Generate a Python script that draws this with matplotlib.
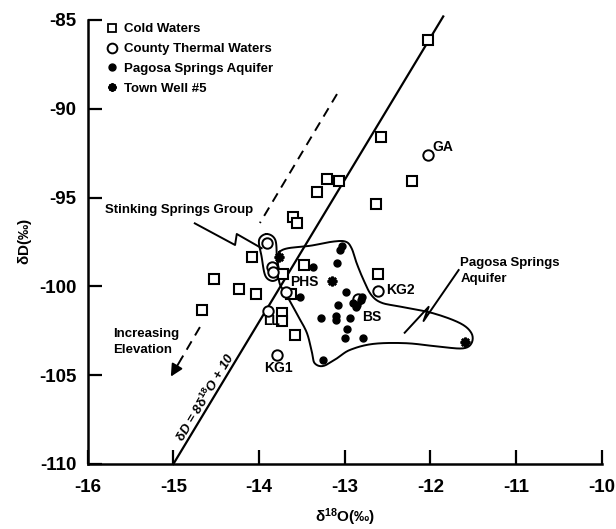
import numpy as np
import matplotlib
matplotlib.use("Agg")
import matplotlib.pyplot as plt
from matplotlib.lines import Line2D

plt.rcParams['font.family'] = ['Liberation Sans', 'DejaVu Sans']
plt.rcParams['font.weight'] = 'bold'
plt.rcParams['axes.labelweight'] = 'bold'
plt.rcParams['axes.unicode_minus'] = False
plt.rcParams['mathtext.fontset'] = 'custom'
plt.rcParams['mathtext.rm'] = 'Liberation Sans:bold'
plt.rcParams['mathtext.bf'] = 'Liberation Sans:bold'
plt.rcParams['mathtext.it'] = 'Liberation Sans:bold:italic'
plt.rcParams['mathtext.default'] = 'bf'

# datos
cold_x = [-12.03, -12.58, -12.22, -13.07, -13.21, -13.32, -12.63, -13.60, -13.56,
          -14.08, -13.72, -13.48, -14.53, -14.23, -14.03, -13.63, -12.61, -14.67,
          -13.73, -13.73, -13.58]
cold_y = [-86.1, -91.6, -94.07, -94.07, -93.95, -94.67, -95.36, -96.08, -96.45,
          -98.36, -99.28, -98.8, -99.6, -100.16, -100.44, -100.43, -99.28, -101.33,
          -101.48, -101.95, -102.74]

thermal_x = [-12.03, -13.91, -13.85, -13.84, -13.69, -12.61, -13.89, -13.79, -12.84]
thermal_y = [-92.6, -97.55, -98.9, -99.17, -100.3, -100.24, -101.39, -103.86, -100.73]

pagosa_x = [-13.03, -13.05, -13.09, -13.37, -13.52, -12.98, -13.08, -13.28, -13.10,
            -13.10, -12.94, -12.97, -13.00, -12.79, -13.25, -12.90, -12.86, -12.81,
            -12.80, -12.87]
pagosa_y = [-97.72, -97.95, -98.66, -98.89, -100.61, -100.33, -101.07, -101.80, -101.67,
            -101.89, -101.76, -102.42, -102.89, -102.89, -104.14, -100.95, -101.05, -100.75,
            -100.6, -101.15]

well_x = [-13.77, -13.15, -11.60]
well_y = [-98.36, -99.72, -103.15]

# etiquetas de muestras
sample_names = ['GA', 'PHS', 'KG2', 'BS', 'LL', 'KG1']
sample_x = [-11.98, -13.47, -12.52, -12.68, -13.86, -13.77]
sample_y = [-92.15, -99.75, -100.2, -101.72, -101.95, -104.6]
sample_ha = ['left', 'center', 'left', 'center', 'center', 'center']

# contorno del acuifero Pagosa Springs
env_x = [-13.76, -13.66, -13.40, -13.14, -12.99, -12.92, -12.86, -12.78, -12.69, -12.57,
         -12.35, -11.97, -11.65, -11.52, -11.52, -11.62, -11.89, -12.28, -12.67, -12.94,
         -13.09, -13.25, -13.35, -13.38, -13.44, -13.54, -13.68, -13.76, -13.78, -13.78]
env_y = [-98.05, -97.85, -97.71, -97.48, -97.48, -97.85, -98.70, -99.64, -100.48, -100.92,
         -101.14, -101.51, -102.08, -102.64, -103.20, -103.49, -103.40, -103.20, -103.24, -103.58,
         -104.05, -104.48, -104.33, -103.77, -102.64, -101.71, -100.48, -99.83, -98.89, -98.33]

# contorno del grupo Stinking Springs
ss_x = [-13.91, -13.81, -13.79, -13.76, -13.79, -13.86, -13.93, -13.97, -14.00]
ss_y = [-97.05, -97.39, -98.51, -99.26, -99.60, -99.68, -99.36, -98.33, -97.39]


def suavizar(xs, ys, n=12):
    # Catmull-Rom cerrado
    p = np.column_stack([xs, ys])
    m = len(p)
    out = []
    for i in range(m):
        p0, p1, p2, p3 = p[i - 1], p[i], p[(i + 1) % m], p[(i + 2) % m]
        for t in np.linspace(0, 1, n, endpoint=False):
            out.append(0.5 * (2 * p1 + (-p0 + p2) * t
                              + (2 * p0 - 5 * p1 + 4 * p2 - p3) * t ** 2
                              + (-p0 + 3 * p1 - 3 * p2 + p3) * t ** 3))
    out.append(out[0])
    out = np.array(out)
    return out[:, 0], out[:, 1]


fig = plt.figure(figsize=(6.16, 5.29), dpi=100)
ax = fig.add_axes([0.1424, 0.1229, 0.8344, 0.8393])

# linea meteorica
mwl_x = np.array([-15.0, -11.85])
ax.plot(mwl_x, 8 * mwl_x + 10, color='black', lw=1.6, clip_on=False)
ax.text(-14.63, -106.23, r'$\delta$D = 8$\delta^{18}$O + 10', rotation=58.9,
        ha='center', va='center', fontsize=9.5, style='italic')

# flecha de elevacion
ax.plot([-13.09, -13.99], [-89.17, -96.43], color='black', lw=1.4, ls=(0, (5, 3.5)))
ax.plot([-14.69, -14.91], [-102.29, -104.1], color='black', lw=1.4, ls=(0, (5, 3.5)))
ax.annotate('', xy=(-15.03, -105.08), xytext=(-14.91, -104.1),
            arrowprops=dict(arrowstyle='-|>', color='black', lw=1.4,
                            mutation_scale=18, shrinkA=0, shrinkB=0))
ax.text(-15.70, -103.13, 'Increasing\nElevation', ha='left', va='center',
        fontsize=9.5, linespacing=1.45)

# contornos
ex, ey = suavizar(env_x, env_y)
ax.plot(ex, ey, color='black', lw=1.4)
sx, sy = suavizar(ss_x, ss_y)
ax.plot(sx, sy, color='black', lw=1.4)

# flechas en zigzag
ax.plot([-14.75, -14.28, -14.26, -13.97], [-96.45, -97.67, -97.05, -97.85],
        color='black', lw=1.4)
ax.text(-15.80, -95.70, 'Stinking Springs Group', ha='left', va='center', fontsize=9.5)
ax.plot([-11.67, -12.08, -12.02, -12.30], [-99.08, -101.95, -101.15, -102.61],
        color='black', lw=1.4)
ax.text(-11.65, -99.13, 'Pagosa Springs\nAquifer', ha='left', va='center',
        fontsize=9.5, linespacing=1.45)

# puntos
ax.plot(cold_x, cold_y, ls='none', marker='s', ms=7, mfc='white', mec='black', mew=1.5)
ax.plot(thermal_x, thermal_y, ls='none', marker='o', ms=7.5, mfc='white', mec='black', mew=1.4)
ax.plot(pagosa_x, pagosa_y, ls='none', marker='o', ms=5, mfc='black', mec='black')
ax.plot(well_x, well_y, ls='none', marker=(8, 2, 0), ms=7, mec='black', mew=1.8)

for nombre, x, y, ha in zip(sample_names, sample_x, sample_y, sample_ha):
    ax.text(x, y, nombre, ha=ha, va='center', fontsize=10)

# leyenda
handles = [
    Line2D([], [], ls='none', marker='s', ms=6, mfc='white', mec='black', mew=1.3),
    Line2D([], [], ls='none', marker='o', ms=7, mfc='white', mec='black', mew=1.4),
    Line2D([], [], ls='none', marker='o', ms=5, mfc='black', mec='black'),
    Line2D([], [], ls='none', marker=(8, 2, 0), ms=6, mec='black', mew=1.6),
]
labels = ['Cold Waters', 'County Thermal Waters', 'Pagosa Springs Aquifer', 'Town Well #5']
ax.legend(handles, labels, loc='upper left', bbox_to_anchor=(0.035, 0.993), frameon=False,
          fontsize=9.5, handlelength=1.0, handletextpad=0.4, labelspacing=0.58,
          borderpad=0, borderaxespad=0)

# ejes
ax.set_xlim(-16, -10)
ax.set_ylim(-110, -85)
ax.set_xticks(range(-16, -9))
ax.set_yticks(range(-110, -84, 5))
for lado in ['top', 'right']:
    ax.spines[lado].set_visible(False)
for lado in ['left', 'bottom']:
    ax.spines[lado].set_linewidth(1.8)
ax.tick_params(axis='both', direction='in', length=10, width=1.6, labelsize=13.5)
ax.tick_params(axis='x', pad=11)
ax.tick_params(axis='y', pad=8)
for t in ax.get_xticklabels() + ax.get_yticklabels():
    t.set_fontweight('bold')
ax.set_xlabel(r'$\delta^{18}$O(‰)', fontsize=11, labelpad=7)
ax.set_ylabel(r'$\delta$D(‰)', fontsize=11, labelpad=4)

fig.savefig('out.png', dpi=100)
